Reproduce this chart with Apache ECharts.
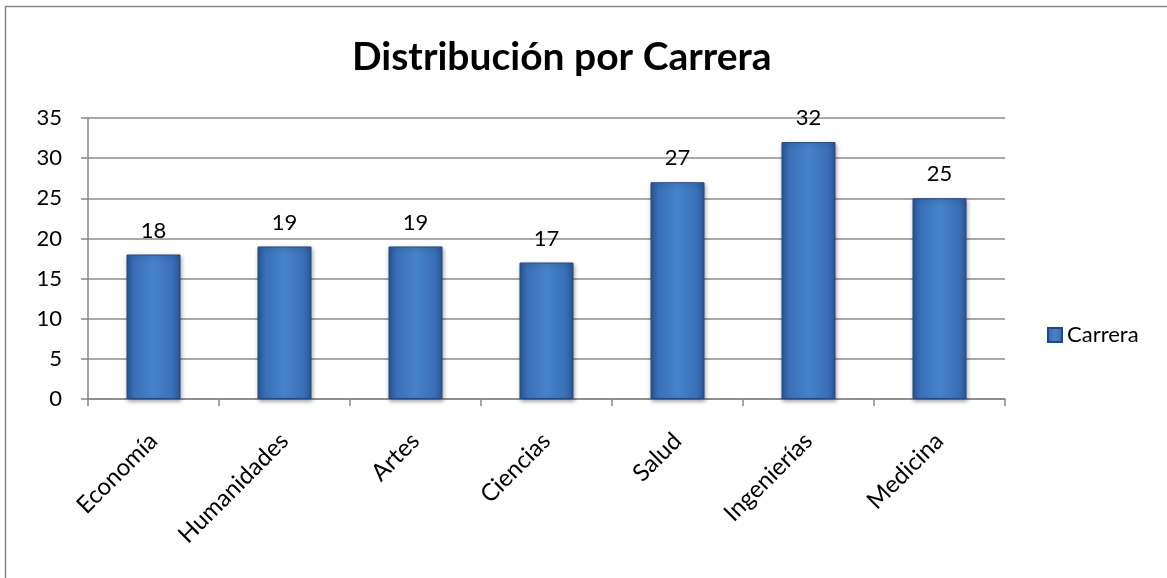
<!DOCTYPE html>
<html>
<head>
<meta charset="utf-8">
<script src="https://cdn.jsdelivr.net/npm/echarts@6/dist/echarts.min.js"></script>
<style>
  html, body { margin: 0; padding: 0; background: #fff; }
  #chart { width: 1167px; height: 578px; }
</style>
</head>
<body>
<div id="chart"></div>
<script>
// data
const categories = ["Economía", "Humanidades", "Artes", "Ciencias", "Salud", "Ingenierías", "Medicina"];
const carrera = [18, 19, 19, 17, 27, 32, 25];
const yTicks = { min: 0, max: 35, interval: 5 };

const font = "Lato, 'Open Sans', sans-serif";

const barColor = new echarts.graphic.LinearGradient(0, 0, 1, 0, [
  { offset: 0, color: "#2a5896" },
  { offset: 0.15, color: "#3a70b8" },
  { offset: 0.5, color: "#4682cc" },
  { offset: 0.85, color: "#3a70b8" },
  { offset: 1, color: "#2a5896" }
]);

const chart = echarts.init(document.getElementById("chart"));
chart.setOption({
  backgroundColor: "#fff",
  animation: false,
  title: {
    text: "Distribución por Carrera",
    left: 352,
    top: 38,
    padding: 0,
    textStyle: { fontFamily: font, fontWeight: "bold", fontSize: 39, color: "#000" }
  },
  legend: {
    data: ["Carrera"],
    left: 1047,
    top: 324,
    padding: 0,
    itemWidth: 14,
    itemHeight: 14,
    itemGap: 6,
    icon: "rect",
    textStyle: { fontFamily: font, fontSize: 22, color: "#000" }
  },
  grid: { left: 88, right: 162, top: 118, bottom: 179 },
  xAxis: {
    type: "category",
    data: categories,
    axisLine: { lineStyle: { color: "#868686", width: 1.5 } },
    axisTick: { show: true, length: 7, alignWithLabel: false, lineStyle: { color: "#868686", width: 1.5 } },
    axisLabel: { rotate: 45, fontFamily: font, fontSize: 24, color: "#000", margin: 38 }
  },
  yAxis: {
    type: "value",
    min: yTicks.min,
    max: yTicks.max,
    interval: yTicks.interval,
    axisLine: { show: true, lineStyle: { color: "#868686", width: 1.5 } },
    axisTick: { show: true, length: 7, lineStyle: { color: "#868686", width: 1.5 } },
    splitLine: { lineStyle: { color: "#8c8c8c", width: 1.5 } },
    axisLabel: { fontFamily: font, fontSize: 22, color: "#000", margin: 26 }
  },
  graphic: [
    {
      type: "rect",
      shape: { x: 5.5, y: 6.5, width: 1200, height: 600 },
      style: { fill: null, stroke: "#868686", lineWidth: 1.5 },
      silent: true
    }
  ],
  series: [
    {
      name: "Carrera",
      type: "bar",
      data: carrera,
      barWidth: 54,
      itemStyle: {
        color: barColor,
        borderColor: "#234a80",
        borderWidth: 1,
        shadowColor: "rgba(0,0,0,0.35)",
        shadowBlur: 4,
        shadowOffsetX: 1,
        shadowOffsetY: 2
      },
      label: {
        show: true,
        position: "top",
        distance: 13,
        fontFamily: font,
        fontSize: 22,
        color: "#000"
      }
    }
  ]
});
</script>
</body>
</html>
